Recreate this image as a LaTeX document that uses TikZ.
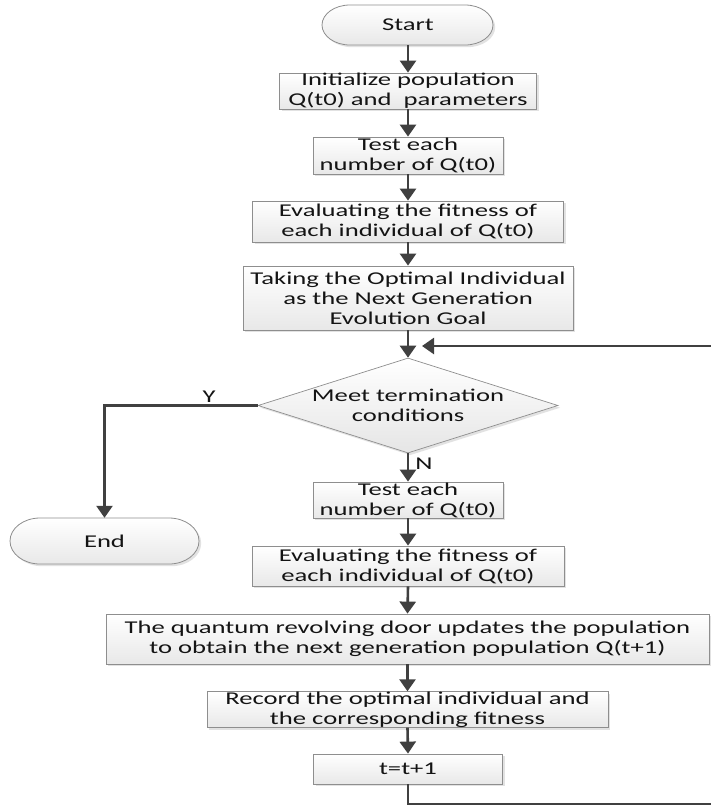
\documentclass[tikz,border=0pt]{standalone}
\usepackage{fontspec}
\newfontfamily\calfont{Carlito}[FakeStretch=1.48]
\usetikzlibrary{arrows.meta,shapes.geometric,shadows}
\definecolor{linegray}{HTML}{404040}
\definecolor{boxedge}{HTML}{8E8E8E}
\definecolor{inkcol}{HTML}{141414}
\tikzset{
  fillshade/.style={top color=white, bottom color=black!9},
  boxshadow/.style={drop shadow={shadow xshift=2.2pt, shadow yshift=-2.2pt, fill=black!22}},
  txt/.style={inner sep=0pt, align=center, font=\calfont\fontsize{18}{20}\selectfont, text=inkcol},
  procbox/.style={txt, rectangle, draw=boxedge, line width=0.8pt, fillshade, boxshadow},
  termbox/.style={draw=boxedge, line width=0.8pt, fillshade, boxshadow},
  condbox/.style={diamond, draw=boxedge, line width=0.7pt, top color=white, bottom color=black!10, boxshadow, inner sep=0pt, aspect=3.16},
  conn/.style={draw=linegray, line width=2.6pt, -{Triangle[width=16pt,length=12pt]}},
  lbl/.style={txt}
}
\begin{document}
\begin{tikzpicture}[x=1pt,y=1pt]
\useasboundingbox[fill=white] (0,0) rectangle (711,-809);

% Start terminator
\path[termbox] (350,-5) -- (465,-5) arc[start angle=90, end angle=-90, x radius=28, y radius=20]
  -- (350,-45) arc[start angle=270, end angle=90, x radius=28, y radius=20] -- cycle;
\node[txt, minimum width=171pt, minimum height=40pt] (start) at (408,-25) {Start};

\node[procbox, minimum width=257pt, minimum height=36pt] (init) at (408,-91)
  {Initialize population\\Q(t0) and~ parameters};
\node[procbox, minimum width=190pt, minimum height=37pt] (test1) at (408,-155.5)
  {Test each\\number of Q(t0)};
\node[procbox, minimum width=311pt, minimum height=41pt] (eval1) at (408,-221.5)
  {Evaluating the fitness of\\each individual of Q(t0)};
\node[procbox, minimum width=330pt, minimum height=64pt] (taking) at (408,-298)
  {Taking the Optimal Individual\\as the Next Generation\\Evolution Goal};

\node[condbox, minimum width=300pt, minimum height=95pt] (cond) at (408,-405.5) {};
\node[txt] (condtext) at (cond.center) {Meet termination\\conditions};

\node[procbox, minimum width=190pt, minimum height=36pt] (test2) at (408,-500)
  {Test each\\number of Q(t0)};

% End terminator
\path[termbox] (40,-518) -- (169,-518) arc[start angle=90, end angle=-90, x radius=30, y radius=23]
  -- (40,-564) arc[start angle=270, end angle=90, x radius=30, y radius=23] -- cycle;
\node[txt, minimum width=189pt, minimum height=46pt] (endnode) at (104.5,-541) {End};

\node[procbox, minimum width=312pt, minimum height=40pt] (eval2) at (408,-566)
  {Evaluating the fitness of\\each individual of Q(t0)};
\node[procbox, minimum width=603pt, minimum height=50pt] (quantum) at (407.5,-639)
  {The quantum revolving door updates the population\\to obtain the next generation population Q(t+1)};
\node[procbox, minimum width=401pt, minimum height=35pt] (record) at (407.5,-709.5)
  {Record the optimal individual and\\the corresponding fitness};
\node[procbox, minimum width=189pt, minimum height=30pt] (tinc) at (408,-769)
  {t=t+1};

% connectors
\draw[conn] (start.south) -- (init.north);
\draw[conn] (init.south) -- (test1.north);
\draw[conn] (test1.south) -- (eval1.north);
\draw[conn] (eval1.south) -- (taking.north);
\draw[conn] (taking.south) -- (cond.north);
\draw[conn] (cond.south) -- node[lbl, right=6pt, pos=0.35] (nlabel) {N} (test2.north);
\draw[conn] (cond.west) -| (endnode.north);
\node[lbl] (ylabel) at (209,-397) {Y};
\draw[conn] (test2.south) -- (eval2.north);
\draw[conn] (eval2.south) -- (quantum.north);
\draw[conn] (quantum.south) -- (record.north);
\draw[conn] (record.south) -- (tinc.north);

\coordinate (fbcorner) at (714,-804);
\coordinate (fbin) at (422,-346);
\draw[conn] (tinc.south) |- (fbcorner) |- (fbin);
\end{tikzpicture}
\end{document}
